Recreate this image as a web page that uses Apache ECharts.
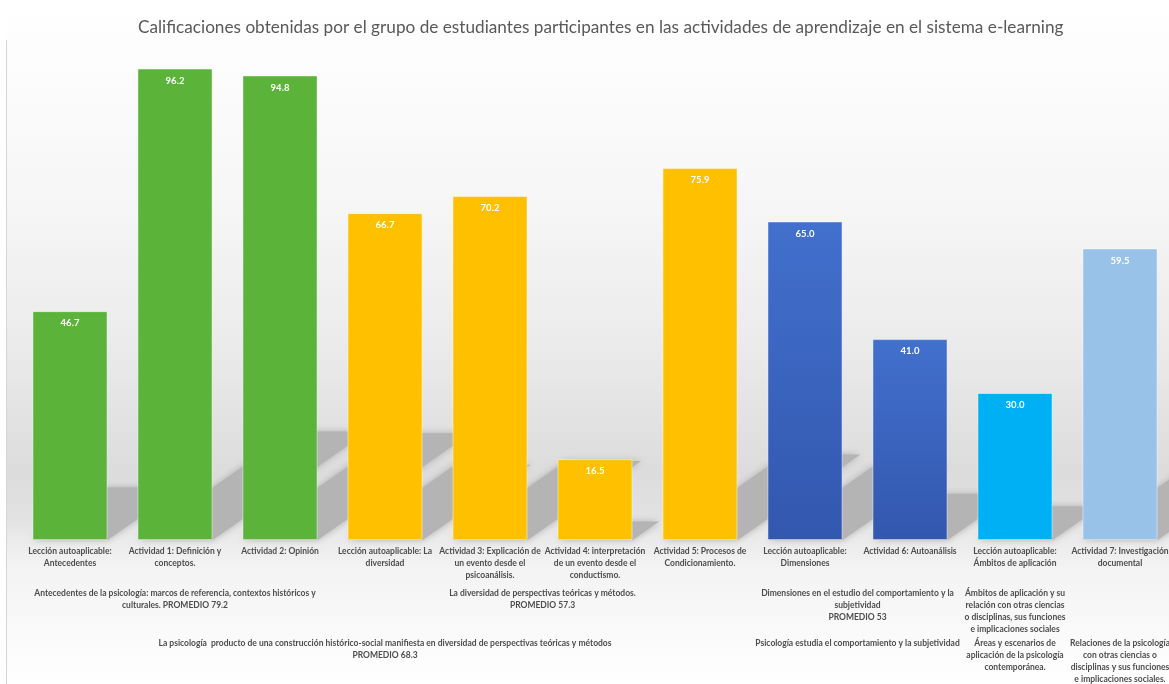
<!DOCTYPE html>
<html>
<head>
<meta charset="utf-8">
<script src="https://cdn.jsdelivr.net/npm/echarts@6/dist/echarts.min.js"></script>
<style>html,body{margin:0;padding:0;background:#fff}#c{width:1169px;height:684px}</style>
</head>
<body>
<div id="c"></div>
<script>
const titleText = 'Calificaciones obtenidas por el grupo de estudiantes participantes en las actividades de aprendizaje en el sistema e-learning';
const categories = [
  'Lección autoaplicable:\nAntecedentes',
  'Actividad 1: Definición y\nconceptos.',
  'Actividad 2: Opinión',
  'Lección autoaplicable: La\ndiversidad',
  'Actividad 3: Explicación de\nun evento desde el\npsicoanálisis.',
  'Actividad 4: interpretación\nde un evento desde el\nconductismo.',
  'Actividad 5: Procesos de\nCondicionamiento.',
  'Lección autoaplicable:\nDimensiones',
  'Actividad 6: Autoanálisis',
  'Lección autoaplicable:\nÁmbitos de aplicación',
  'Actividad 7: Investigación\ndocumental'
];
const values = [46.7, 96.2, 94.8, 66.7, 70.2, 16.5, 75.9, 65.0, 41.0, 30.0, 59.5];
const colorGroup = [0, 0, 0, 1, 1, 1, 1, 2, 2, 3, 4];
// level 2 group labels: [first category index, last category index, text]
const level2Groups = [
  [0, 2, 'Antecedentes de la psicología: marcos de referencia, contextos históricos y\nculturales. PROMEDIO 79.2'],
  [3, 6, 'La diversidad de perspectivas teóricas y métodos.\nPROMEDIO 57.3'],
  [7, 8, 'Dimensiones en el estudio del comportamiento y la\nsubjetividad\nPROMEDIO 53'],
  [9, 9, 'Ámbitos de aplicación y su\nrelación con otras ciencias\no disciplinas, sus funciones\ne implicaciones sociales']
];
const level3Groups = [
  [0, 6, 'La psicología  producto de una construcción histórico-social manifiesta en diversidad de perspectivas teóricas y métodos\nPROMEDIO 68.3'],
  [7, 8, 'Psicología estudia el comportamiento y la subjetividad'],
  [9, 9, 'Áreas y escenarios de\naplicación de la psicología\ncontemporánea.'],
  [10, 10, 'Relaciones de la psicología\ncon otras ciencias o\ndisciplinas y sus funciones\ne implicaciones sociales.']
];

const palette = [
  '#5bb33a',
  '#ffc000',
  new echarts.graphic.LinearGradient(0, 0, 0, 1, [{offset: 0, color: '#4270cd'}, {offset: 1, color: '#3257ae'}]),
  '#00b0f5',
  '#98c2e8'
];

function groupMap(groups) {
  const m = {};
  groups.forEach(g => { m[((g[0] + g[1] + 1) / 2).toFixed(1)] = g[2]; });
  return m;
}
const l2 = groupMap(level2Groups);
const l3 = groupMap(level3Groups);

const labelFont = {fontFamily: 'Lato', fontSize: 8.5, color: '#4d4d4d', lineHeight: 12, fontWeight: 'bold'};
const BAR_RATIO = 0.715;

const chart = echarts.init(document.getElementById('c'), null, {renderer: 'canvas'});
chart.setOption({
  animation: false,
  graphic: [
    {type: 'rect', z: -100, silent: true, shape: {x: 7, y: 0, width: 1169, height: 684},
     style: {fill: new echarts.graphic.LinearGradient(0, 0, 0, 1, [
       {offset: 0, color: '#ffffff'},
       {offset: 0.07, color: '#fdfdfd'},
       {offset: 0.3, color: '#f6f6f6'},
       {offset: 0.5, color: '#ebebeb'},
       {offset: 0.69, color: '#dcdcdc'},
       {offset: 0.76, color: '#e2e2e2'},
       {offset: 0.79, color: '#ebebeb'},
       {offset: 0.83, color: '#f3f3f3'},
       {offset: 1, color: '#ffffff'}
     ])}},
    {type: 'line', z: -99, silent: true, shape: {x1: 6.5, y1: 40, x2: 6.5, y2: 684}, style: {stroke: '#d6d6d6', lineWidth: 1}}
  ],
  title: {
    text: titleText, left: 133, top: 14,
    textStyle: {fontFamily: 'Lato', fontSize: 17.2, fontWeight: 'normal', color: '#595959'}
  },
  grid: {left: 17.5, top: 50, width: 1155, height: 490, containLabel: false, outerBoundsMode: 'none'},
  xAxis: [
    {type: 'category', data: categories, axisLine: {show: false}, axisTick: {show: false},
     axisLabel: Object.assign({interval: 0, margin: 5}, labelFont)},
    {type: 'value', gridIndex: 0, position: 'bottom', min: 0, max: 11, interval: 0.5,
     axisLine: {show: false}, axisTick: {show: false}, splitLine: {show: false},
     axisLabel: Object.assign({margin: 47, hideOverlap: false, showMinLabel: true, showMaxLabel: true,
       formatter: v => l2[v.toFixed(1)] || ''}, labelFont)},
    {type: 'value', gridIndex: 0, position: 'bottom', min: 0, max: 11, interval: 0.5,
     axisLine: {show: false}, axisTick: {show: false}, splitLine: {show: false},
     axisLabel: Object.assign({margin: 97, hideOverlap: false, showMinLabel: true, showMaxLabel: true,
       formatter: v => l3[v.toFixed(1)] || ''}, labelFont)}
  ],
  yAxis: {type: 'value', min: 0, max: 100, show: false},
  series: [
    {
      type: 'custom', z: 1, silent: true, clip: false,
      data: values.map((v, i) => [i, v]),
      renderItem: function (params, api) {
        const base = api.coord([api.value(0), 0]);
        const top = api.coord([api.value(0), api.value(1)]);
        const h = base[1] - top[1];
        const w = api.size([1, 0])[0] * BAR_RATIO;
        const xL = base[0] - w / 2, xR = base[0] + w / 2;
        const dx = 0.33 * h, dy = 0.23 * h;
        return {
          type: 'polygon',
          shape: {points: [[xL, base[1]], [xR, base[1]], [xR + dx, base[1] - dy], [xL + dx, base[1] - dy]]},
          style: {fill: '#b4b4b4', shadowBlur: 7, shadowColor: 'rgba(170,170,170,0.9)'}
        };
      }
    },
    {
      type: 'bar', z: 2, barWidth: (BAR_RATIO * 100) + '%',
      data: values.map((v, i) => ({value: v, itemStyle: {color: palette[colorGroup[i]]}})),
      itemStyle: {borderColor: 'rgba(255,255,255,0.45)', borderWidth: 1},
      label: {show: true, position: 'insideTop', distance: 7, color: '#ffffff',
        fontFamily: 'Lato', fontSize: 9.5, fontWeight: 'bold',
        formatter: p => p.value.toFixed(1)}
    }
  ]
});
</script>
</body>
</html>
